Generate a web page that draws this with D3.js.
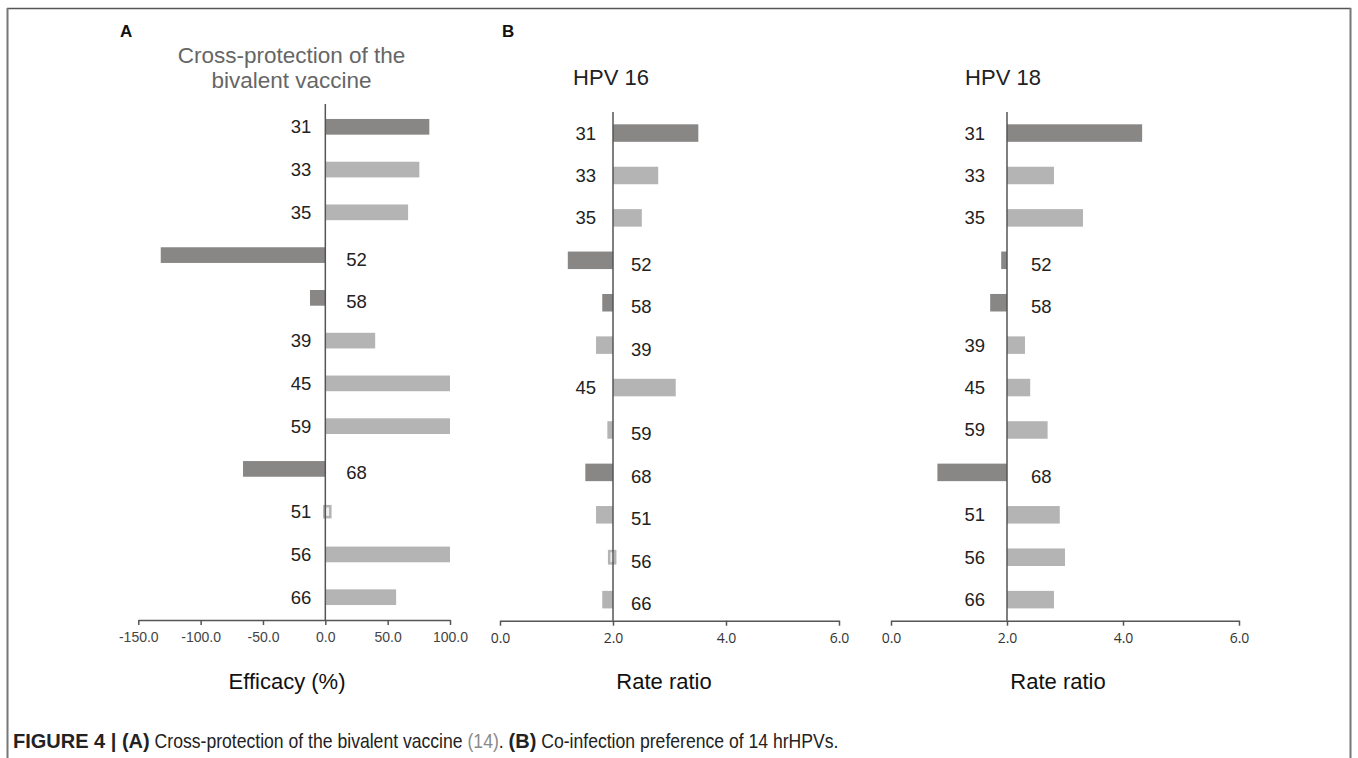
<!DOCTYPE html>
<html>
<head>
<meta charset="utf-8">
<script src="https://cdn.jsdelivr.net/npm/d3@7"></script>
<style>
  html, body { margin: 0; padding: 0; background: #fff; }
  svg { display: block; }
</style>
</head>
<body>
<svg id="fig" width="1358" height="758"></svg>
<script>
// HPV types, in plotting order (top to bottom)
const hpvTypes = ["31", "33", "35", "52", "58", "39", "45", "59", "68", "51", "56", "66"];
// Types drawn in the darker shade
const darkTypes = ["31", "52", "58", "68"];

// Panel A: cross-protection efficacy (%) of the bivalent vaccine
const efficacy = [83.4, 75.4, 66.4, -132, -12.3, 40, 100, 100, -66, 3, 100, 56.8];
// Panel B: co-infection rate ratios with HPV 16 and HPV 18
const rateRatio16 = [3.51, 2.80, 2.51, 1.20, 1.81, 1.70, 3.11, 1.90, 1.51, 1.70, 1.95, 1.81];
const rateRatio18 = [4.33, 2.81, 3.31, 1.90, 1.71, 2.31, 2.40, 2.70, 0.80, 2.91, 3.00, 2.81];

// Axis ticks
const efficacyTicks = [-150, -100, -50, 0, 50, 100];
const ratioTicks = [0, 2, 4, 6];

const svg = d3.select("#fig");
const DARK = "#898686";
const LIGHT = "#b4b4b4";
const AXIS = "#555";
const SANS = "'Liberation Sans', Arial, sans-serif";

// Figure frame
svg.append("line").attr("x1", 7).attr("x2", 1351).attr("y1", 8.5).attr("y2", 8.5)
  .attr("stroke", "#555").attr("stroke-width", 1.6);
svg.append("line").attr("x1", 7.5).attr("x2", 7.5).attr("y1", 8).attr("y2", 758)
  .attr("stroke", "#777").attr("stroke-width", 2);
svg.append("line").attr("x1", 1350.5).attr("x2", 1350.5).attr("y1", 8).attr("y2", 758)
  .attr("stroke", "#777").attr("stroke-width", 2);

function drawPanel(opts) {
  const { values, domain, range, base, yRange, padInner, padOuter, ticks, tickFmt,
          tickFont, tickSize, tickColor, labelGapLeft, labelGapRight, xLabel, xLabelX } = opts;
  const x = d3.scaleLinear().domain(domain).range(range);
  const y = d3.scaleBand().domain(hpvTypes).range(yRange)
    .paddingInner(padInner).paddingOuter(padOuter);
  const g = svg.append("g");
  const x0 = x(base);

  // bars
  hpvTypes.forEach((t, i) => {
    const v = values[i];
    const xa = Math.min(x(v), x0), w = Math.abs(x(v) - x0);
    const fill = darkTypes.includes(t) ? DARK : LIGHT;
    if (w < 4) {
      // very short bar: drawn as an outlined sliver
      const h = y.bandwidth() * 0.7;
      g.append("rect")
        .attr("x", xa - 1).attr("width", Math.max(w, 4) + 2)
        .attr("y", y(t) + (y.bandwidth() - h) / 2).attr("height", h)
        .attr("fill", "#efefef").attr("stroke", fill).attr("stroke-width", 2.5);
    } else {
      g.append("rect")
        .attr("x", xa).attr("width", w)
        .attr("y", y(t)).attr("height", y.bandwidth())
        .attr("fill", fill);
    }
  });

  // category labels: left of the axis for bars above the baseline, right otherwise
  hpvTypes.forEach((t, i) => {
    const pos = values[i] >= base;
    g.append("text")
      .attr("x", pos ? x0 - labelGapLeft : x0 + labelGapRight)
      .attr("y", y(t) + y.bandwidth() / 2 + (pos ? 0 : 4))
      .attr("dy", "0.35em")
      .attr("text-anchor", pos ? "end" : "start")
      .attr("font-family", SANS)
      .attr("font-size", 18.5).attr("fill", "#222")
      .text(t);
  });

  // vertical axis at the baseline
  g.append("line").attr("x1", x0).attr("x2", x0)
    .attr("y1", yRange[0]).attr("y2", yRange[1])
    .attr("stroke", AXIS).attr("stroke-width", 1.5);

  // horizontal value axis
  const ax = g.append("g").attr("transform", `translate(0,${yRange[1]})`)
    .call(d3.axisBottom(x).tickValues(ticks).tickFormat(tickFmt)
      .tickSize(5).tickSizeOuter(0).tickPadding(7));
  ax.select(".domain").attr("stroke", AXIS).attr("stroke-width", 1.5);
  ax.selectAll(".tick line").attr("stroke", AXIS).attr("stroke-width", 1.5);
  ax.selectAll(".tick text")
    .attr("font-family", tickFont).attr("font-size", tickSize).attr("fill", tickColor);

  // axis title
  g.append("text").attr("x", xLabelX).attr("y", 689)
    .attr("text-anchor", "middle")
    .attr("font-family", SANS)
    .attr("font-size", 22).attr("fill", "#111")
    .text(xLabel);
  return x;
}

const fmt1 = v => v.toFixed(1);

drawPanel({
  values: efficacy, domain: [-150, 100], range: [138.3, 450], base: 0,
  yRange: [104, 620], padInner: 0.633, padOuter: 0.35,
  ticks: efficacyTicks, tickFmt: fmt1,
  tickFont: SANS, tickSize: 14, tickColor: "#444",
  labelGapLeft: 14, labelGapRight: 21, xLabel: "Efficacy (%)", xLabelX: 287
});
drawPanel({
  values: rateRatio16, domain: [0, 6], range: [500, 839], base: 2,
  yRange: [112, 620.7], padInner: 0.587, padOuter: 0.29,
  ticks: ratioTicks, tickFmt: fmt1,
  tickFont: "'Open Sans', sans-serif", tickSize: 14, tickColor: "#333",
  labelGapLeft: 17, labelGapRight: 18, xLabel: "Rate ratio", xLabelX: 664
});
drawPanel({
  values: rateRatio18, domain: [0, 6], range: [891, 1239], base: 2,
  yRange: [112, 620.7], padInner: 0.587, padOuter: 0.29,
  ticks: ratioTicks, tickFmt: fmt1,
  tickFont: "'Open Sans', sans-serif", tickSize: 14, tickColor: "#333",
  labelGapLeft: 22, labelGapRight: 24, xLabel: "Rate ratio", xLabelX: 1058
});

// panel letters
svg.append("text").attr("x", 120).attr("y", 37)
  .attr("font-family", SANS).attr("font-weight", "bold")
  .attr("font-size", 17).attr("fill", "#111").text("A");
svg.append("text").attr("x", 502).attr("y", 37)
  .attr("font-family", SANS).attr("font-weight", "bold")
  .attr("font-size", 17).attr("fill", "#111").text("B");

// panel titles
const titleA = svg.append("text").attr("text-anchor", "middle")
  .attr("font-family", SANS)
  .attr("font-size", 22.5).attr("fill", "#666");
titleA.append("tspan").attr("x", 291.5).attr("y", 63).text("Cross-protection of the");
titleA.append("tspan").attr("x", 291.5).attr("y", 88).text("bivalent vaccine");

[["HPV 16", 611], ["HPV 18", 1003]].forEach(([t, cx]) => {
  svg.append("text").attr("x", cx).attr("y", 85).attr("text-anchor", "middle")
    .attr("font-family", SANS)
    .attr("font-size", 22).attr("fill", "#222").text(t);
});

// figure caption: bold pieces at normal width, plain text condensed
const capSegments = [
  { text: "FIGURE 4 | (A)", bold: true },
  { text: " Cross-protection of the bivalent vaccine ", bold: false },
  { text: "(14)", bold: false, color: "#8a8a8a" },
  { text: ". ", bold: false },
  { text: "(B)", bold: true },
  { text: " Co-infection preference of 14 hrHPVs.", bold: false }
];
let capX = 13;
const capY = 748;
capSegments.forEach(s => {
  const sx = s.bold ? 1 : 0.88;
  const tx = svg.append("text")
    .attr("transform", `translate(${capX},${capY}) scale(${sx},1)`)
    .attr("font-family", SANS).attr("font-size", 20)
    .attr("font-weight", s.bold ? "bold" : "normal")
    .attr("fill", s.color || "#222")
    .style("white-space", "pre")
    .attr("xml:space", "preserve")
    .text(s.text);
  capX += tx.node().getComputedTextLength() * sx;
});
</script>
</body>
</html>
